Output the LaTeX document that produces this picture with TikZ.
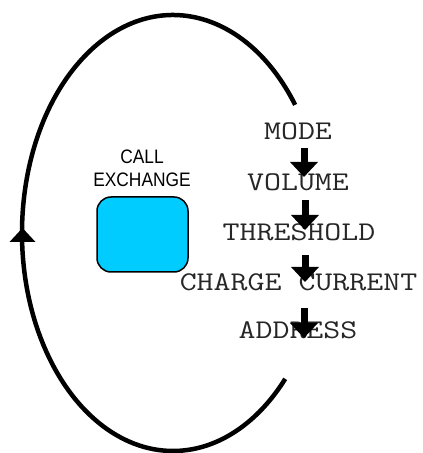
\documentclass[tikz,border=0pt]{standalone}
\usepackage{fontspec}
\setmainfont{Liberation Sans}
\usetikzlibrary{arrows.meta}
\tikzset{
  loopline/.style={line width=4.5pt, line cap=butt},
  box/.style={draw=black, line width=1.5pt, rounded corners=14pt, minimum width=91pt, minimum height=75pt, inner sep=0pt},
  stepword/.style={font=\ttfamily\fontsize{27}{30}\selectfont, xscale=1.22, text=black!85, inner sep=0pt, anchor=center},
  flowarrow/.style={line width=7pt, -{Triangle[width=27pt,length=15pt]}},
  lbl/.style={font=\fontsize{19.5}{23}\selectfont, align=center, inner sep=0pt}
}
\definecolor{boxblue}{HTML}{00CCFF}
\begin{document}
\begin{tikzpicture}[x=1pt,y=1pt]
\useasboundingbox (0,0) rectangle (423,453);
% loop
\draw[loopline] (173,220) ++(36:151 and 218) coordinate (ls) arc[start angle=36, end angle=318, x radius=151, y radius=218];
\coordinate (tip) at (22.5,225);
\fill (tip) -- ++(-13,-14) -- ++(26,0) -- cycle;
% box
\node[box, fill=boxblue] (ce) at (142.5,218.5) {};
\node[lbl, xscale=0.89] (celbl) at (142,284.5) {CALL\\EXCHANGE};
% words
\node[stepword] (mode) at (298,322) {MODE};
\node[stepword] (vol) at (298,271) {VOLUME};
\node[stepword] (thr) at (299,221) {THRESHOLD};
\node[stepword] (chg) at (298.5,171) {CHARGE CURRENT};
\node[stepword] (adr) at (298,123) {ADDRESS};
% arrows
\coordinate (a1s) at (304,305); \coordinate (a1e) at (304,276);
\coordinate (a2s) at (305,253); \coordinate (a2e) at (305,223);
\coordinate (a3s) at (305,198); \coordinate (a3e) at (305,171);
\coordinate (a4s) at (304,145); \coordinate (a4e) at (304,115);
\draw[flowarrow] (a1s) -- (a1e);
\draw[flowarrow] (a2s) -- (a2e);
\draw[flowarrow] (a3s) -- (a3e);
\draw[flowarrow] (a4s) -- (a4e);
\end{tikzpicture}
\end{document}
